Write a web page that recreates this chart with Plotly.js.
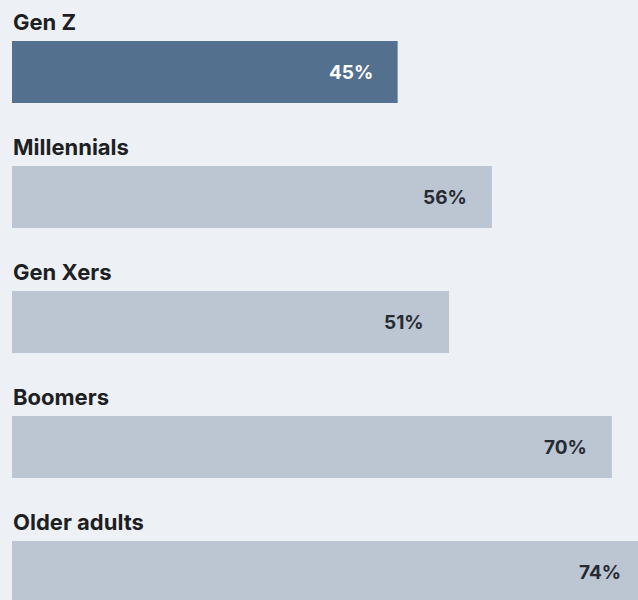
<!DOCTYPE html>
<html>
<head>
<meta charset="utf-8">
<script src="https://cdn.plot.ly/plotly-3.0.1.min.js"></script>
<style>html,body{margin:0;padding:0;background:#edf0f4;}#chart{width:638px;height:600px;}</style>
</head>
<body>
<div id="chart"></div>
<script>
const categories = ["Gen Z", "Millennials", "Gen Xers", "Boomers", "Older adults"];
const values = [45, 56, 51, 70, 74];
const valueLabels = ["45%", "56%", "51%", "70%", "74%"];
const barColors = ["#54708f", "#bcc5d2", "#bcc5d2", "#bcc5d2", "#bcc5d2"];
const labelColors = ["#ffffff", "#262b33", "#262b33", "#262b33", "#262b33"];

const positions = categories.map((c, i) => i);
const font = "Inter, 'Noto Sans', sans-serif";
const xMax = 73.05;

const trace = {
  type: "bar",
  orientation: "h",
  x: values,
  y: positions,
  width: 0.496,
  marker: { color: barColors, line: { width: 0 } },
  hoverinfo: "none"
};

const annotations = [];
categories.forEach((c, i) => {
  annotations.push({
    x: 0, y: positions[i], xref: "x", yref: "y",
    text: "<b>" + c + "</b>", showarrow: false,
    xanchor: "left", yanchor: "middle", xshift: -1, yshift: 50,
    font: { family: font, size: 22, color: "#1d1f23" }
  });
  annotations.push({
    x: values[i] / xMax, y: positions[i], xref: "paper", yref: "y",
    text: "<b>" + valueLabels[i] + "</b>", showarrow: false,
    xanchor: "right", yanchor: "middle", xshift: -23, yshift: 0,
    font: { family: font, size: 19, color: labelColors[i] }
  });
});

const layout = {
  width: 638, height: 600,
  margin: { l: 12, r: 0, t: 0, b: 0, pad: 0 },
  paper_bgcolor: "#edf0f4", plot_bgcolor: "#edf0f4",
  showlegend: false,
  xaxis: { range: [0, xMax], visible: false, fixedrange: true },
  yaxis: { range: [4.224, -0.576], visible: false, fixedrange: true },
  annotations: annotations
};

Plotly.newPlot("chart", [trace], layout, { displayModeBar: false, staticPlot: true });
</script>
</body>
</html>
